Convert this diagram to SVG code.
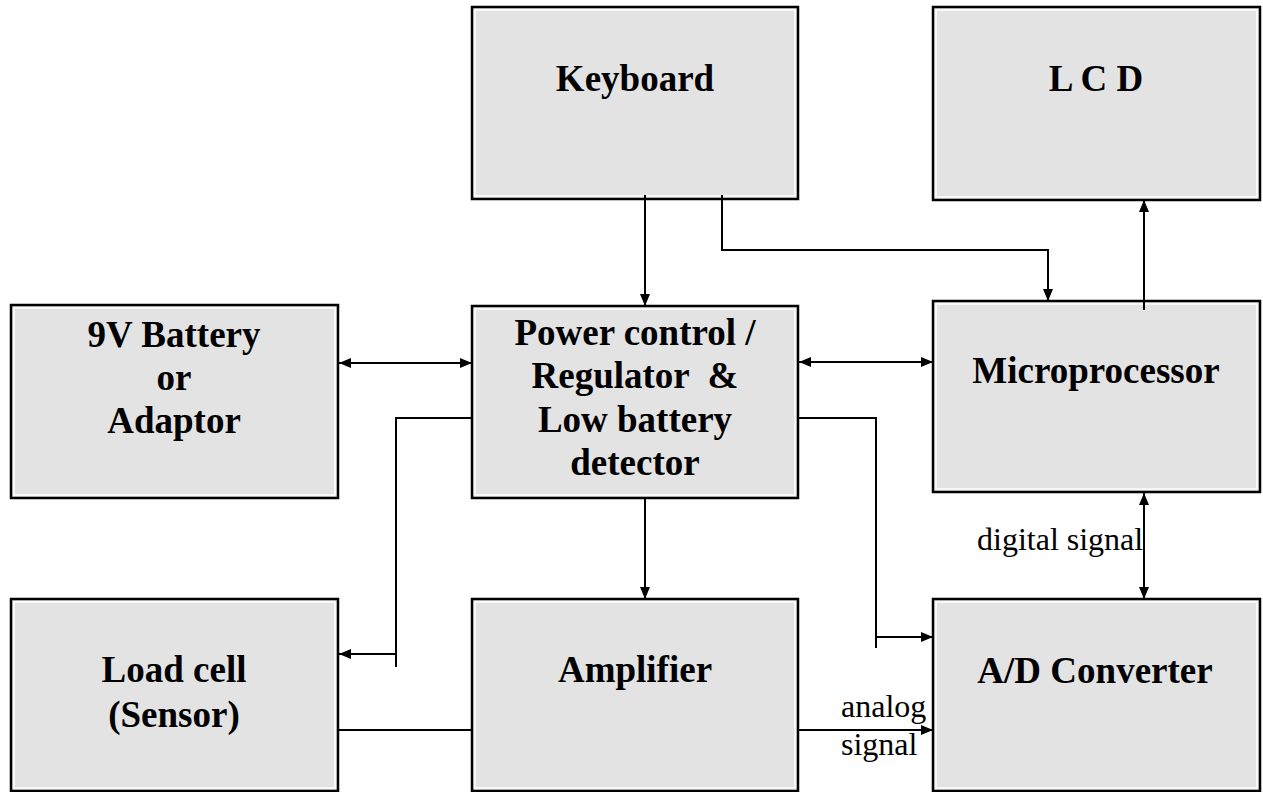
<svg xmlns="http://www.w3.org/2000/svg" width="1263" height="792" viewBox="0 0 1263 792">
<style>
.box{fill:#e3e3e3;stroke:#000;stroke-width:2.5}
.inner{fill:none;stroke:#fff;stroke-width:1.5}
.lbl{font-family:"Liberation Serif","Times New Roman",serif;font-weight:bold;font-size:37px;text-anchor:middle;fill:#000}
.sig{font-family:"Liberation Serif","Times New Roman",serif;font-size:32px;fill:#000}
.ln{fill:none;stroke:#000;stroke-width:2}
</style>
<defs>
<marker id="ah" viewBox="0 0 12 10" refX="12" refY="5" markerWidth="12" markerHeight="10" markerUnits="userSpaceOnUse" orient="auto-start-reverse">
<path d="M0,0 L12,5 L0,10 Z" fill="#000"/>
</marker>
</defs>
<rect width="1263" height="792" fill="#fff"/>
<g id="keyboard">
<rect class="box" x="472" y="7" width="326" height="192"/>
<rect class="inner" x="475" y="10" width="320" height="186"/>
<text class="lbl" x="635" y="91">Keyboard</text>
</g>
<g id="lcd">
<rect class="box" x="933" y="7" width="327" height="193"/>
<rect class="inner" x="936" y="10" width="321" height="187"/>
<text class="lbl" x="1096" y="91">L C D</text>
</g>
<g id="battery">
<rect class="box" x="11" y="305" width="327" height="193"/>
<rect class="inner" x="14" y="308" width="321" height="187"/>
<text class="lbl" x="174" y="347">9V Battery</text>
<text class="lbl" x="174" y="390">or</text>
<text class="lbl" x="174" y="433">Adaptor</text>
</g>
<g id="power">
<rect class="box" x="472" y="306" width="326" height="192"/>
<rect class="inner" x="475" y="309" width="320" height="186"/>
<text class="lbl" x="635" y="345">Power control /</text>
<text class="lbl" x="635" y="388" xml:space="preserve">Regulator  &amp;</text>
<text class="lbl" x="635" y="432">Low battery</text>
<text class="lbl" x="635" y="475">detector</text>
</g>
<g id="microprocessor">
<rect class="box" x="933" y="301" width="327" height="191"/>
<rect class="inner" x="936" y="304" width="321" height="185"/>
<text class="lbl" x="1096" y="383">Microprocessor</text>
</g>
<g id="loadcell">
<rect class="box" x="11" y="599" width="327" height="192"/>
<rect class="inner" x="14" y="602" width="321" height="186"/>
<text class="lbl" x="174" y="682">Load cell</text>
<text class="lbl" x="174" y="727">(Sensor)</text>
</g>
<g id="amplifier">
<rect class="box" x="472" y="599" width="326" height="192"/>
<rect class="inner" x="475" y="602" width="320" height="186"/>
<text class="lbl" x="635" y="682">Amplifier</text>
</g>
<g id="adconverter">
<rect class="box" x="933" y="599" width="327" height="192"/>
<rect class="inner" x="936" y="602" width="321" height="186"/>
<text class="lbl" x="1095" y="683">A/D Converter</text>
</g>
<g id="connectors">
<path class="ln" d="M645,195 V306" marker-end="url(#ah)"/>
<path class="ln" d="M722,195 V250 H1048 V301" marker-end="url(#ah)"/>
<path class="ln" d="M1144,310 V200" marker-end="url(#ah)"/>
<path class="ln" d="M339,363 H472" marker-start="url(#ah)" marker-end="url(#ah)"/>
<path class="ln" d="M799,362 H933" marker-start="url(#ah)" marker-end="url(#ah)"/>
<path class="ln" d="M472,418 H396 V667"/>
<path class="ln" d="M396,654 H339" marker-end="url(#ah)"/>
<path class="ln" d="M798,418 H876 V648"/>
<path class="ln" d="M876,637 H933" marker-end="url(#ah)"/>
<path class="ln" d="M645,498 V599" marker-end="url(#ah)"/>
<path class="ln" d="M1144,493 V599" marker-start="url(#ah)" marker-end="url(#ah)"/>
<path class="ln" d="M338,730 H472"/>
<path class="ln" d="M798,730 H933" marker-end="url(#ah)"/>
<text class="sig" x="977" y="550">digital signal</text>
<text class="sig" x="841" y="717">analog</text>
<text class="sig" x="841" y="755">signal</text>
</g>
</svg>
